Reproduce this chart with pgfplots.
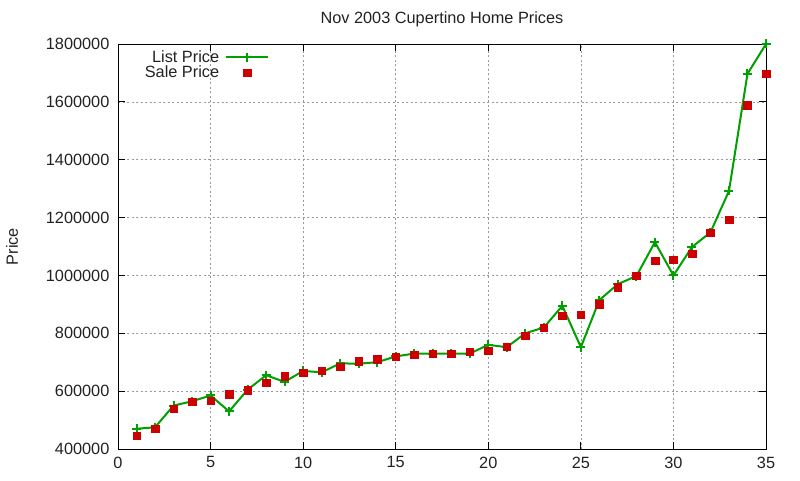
\documentclass[border=0pt]{standalone}
\usepackage{pgfplots}
\pgfplotsset{compat=1.18}
\usepackage{fontspec}
\setmainfont{Liberation Sans}
\definecolor{gpgreen}{RGB}{0,160,0}
\definecolor{gpred}{RGB}{204,0,0}
\definecolor{txt}{RGB}{34,34,34}

% wider legend sample, marker in the middle
\pgfplotsset{longlegend/.style={legend image code/.code={%
    \draw[mark repeat=2, mark phase=2, ##1]
        plot coordinates {(0pt,0pt) (21pt,0pt) (42pt,0pt)};}}}

% list price and sale price per home, Nov 2003
\pgfplotstableread{
n list sale
1 470000 446000
2 475000 470000
3 550000 539000
4 565000 563000
5 585000 567000
6 530000 590000
7 605000 604000
8 655000 629000
9 632000 652000
10 670000 664000
11 665000 670000
12 696000 685000
13 695000 704000
14 700000 711000
15 720000 719000
16 730000 726000
17 730000 729000
18 730000 729000
19 730000 736000
20 760000 740000
21 752000 754000
22 800000 792000
23 820000 819000
24 895000 861000
25 752000 864000
26 915000 900000
27 970000 959000
28 998000 999000
29 1115000 1051000
30 1000000 1054000
31 1098000 1075000
32 1149000 1148000
33 1292000 1193000
34 1697000 1588000
35 1800000 1698000
}\prices

\begin{document}
\fontsize{16.3}{19}\selectfont
\begin{tikzpicture}
\path[use as bounding box] (0pt,0pt) rectangle (800pt,480pt);
\begin{axis}[
    at={(118pt,31pt)}, anchor=south west,
    scale only axis,
    width=648pt, height=405pt,
    xmin=0, xmax=35, ymin=400000, ymax=1800000,
    xtick distance=5, ytick distance=200000,
    scaled y ticks=false,
    /pgf/number format/.cd, fixed, 1000 sep={}, assume math mode=true,
    /pgfplots/.cd,
    tick align=inside, major tick length=7pt,
    every tick/.style={black, line width=0.8pt},
    axis line style={black, line width=0.9pt},
    grid=major,
    major grid style={gray!80, line width=0.7pt, dash pattern=on 2pt off 2.5pt},
    tick label style={text=txt, font=\fontsize{16.3}{19}\selectfont},
    xticklabel style={yshift=-2pt},
    yticklabel style={xshift=-3pt},
    title={Nov 2003 Cupertino Home Prices},
    title style={at={(axis description cs:0.5,1)}, anchor=center, yshift=19pt, text=txt},
    ylabel={Price},
    ylabel style={at={(axis description cs:-0.1636,0.5)}, anchor=center, rotate=0, text=txt},
    legend plot pos=right,
    legend cell align=right,
    legend style={draw=none, fill=none, at={(0.038,0.99)}, anchor=north west,
        inner sep=0pt, row sep=-3pt, text=txt,
        nodes={inner sep=2pt}},
    legend entries={List Price\hspace*{4pt}, Sale Price\hspace*{4pt}},
]
\addplot[gpgreen, line width=2pt, mark=+, mark size=4.5pt,
    mark options={line width=2pt}, longlegend]
    table[x=n, y=list] {\prices};
\addplot[only marks, gpred, mark=square*, mark size=3.8pt, longlegend]
    table[x=n, y=sale] {\prices};
\end{axis}
\end{tikzpicture}
\end{document}
